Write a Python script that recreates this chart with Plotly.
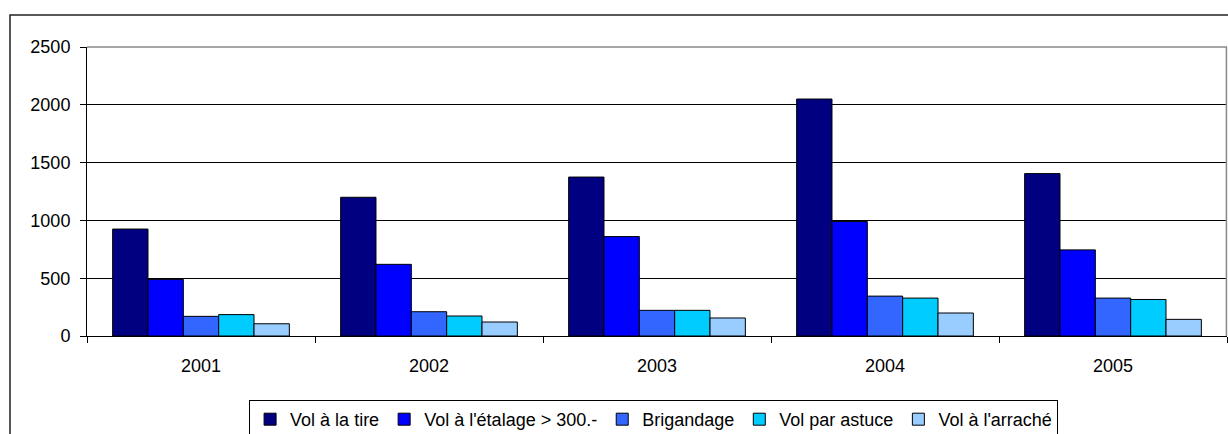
import plotly.graph_objects as go

years = ["2001", "2002", "2003", "2004", "2005"]
vol_tire = [925, 1200, 1375, 2050, 1405]
vol_etalage = [490, 620, 860, 990, 745]
brigandage = [170, 210, 222, 345, 328]
vol_astuce = [185, 173, 222, 328, 316]
vol_arrache = [106, 121, 156, 199, 144]

series_names = ["Vol à la tire", "Vol à l'étalage > 300.-", "Brigandage",
                "Vol par astuce", "Vol à l'arraché"]
series_values = [vol_tire, vol_etalage, brigandage, vol_astuce, vol_arrache]
colors = ["#000080", "#0000FF", "#3366FF", "#00CCFF", "#99CCFF"]

font = "Liberation Sans, Arial, sans-serif"

fig = go.Figure()
for name, vals, col in zip(series_names, series_values, colors):
    fig.add_trace(go.Bar(x=years, y=vals, name=name,
                         marker=dict(color=col, line=dict(color="black", width=1))))

L, R, T, B = 87, 1, 47, 98
W, H = 1228 - L - R, 434 - T - B

fig.update_layout(
    width=1228, height=434,
    margin=dict(l=L, r=R, t=T, b=B, autoexpand=False),
    paper_bgcolor="white", plot_bgcolor="white",
    barmode="group", bargap=0.225, bargroupgap=0,
    font=dict(family=font, size=18, color="black"),
    showlegend=True,
    legend=dict(orientation="h", x=0.497, xanchor="center",
                y=(336 - 400) / H, yanchor="top",
                bordercolor="black", borderwidth=1,
                font=dict(size=18), itemwidth=30,
                traceorder="normal"),
    xaxis=dict(type="category", showline=True, linecolor="black", linewidth=1,
               ticks="outside", tickson="boundaries", ticklen=6, tickcolor="black",
               showgrid=False, ticklabelstandoff=13, automargin=False),
    yaxis=dict(range=[0, 2500], dtick=500, showline=True, linecolor="black", linewidth=1,
               ticks="outside", ticklen=6, tickcolor="black",
               showgrid=True, gridcolor="black", gridwidth=1, zeroline=False,
               ticklabelstandoff=6, automargin=False),
    shapes=[
        dict(type="line", xref="paper", yref="paper", x0=0, x1=1, y0=1, y1=1,
             line=dict(color="#888888", width=1.5), layer="above"),
        dict(type="line", xref="paper", yref="paper", x0=0.9995, x1=0.9995, y0=0, y1=1,
             line=dict(color="#888888", width=1.5), layer="above"),
        dict(type="rect", xref="paper", yref="paper",
             x0=(10 - L) / W, x1=1.05, y0=-1, y1=(336 - 15) / H,
             line=dict(color="#222222", width=1.5), layer="above"),
    ],
)

fig.write_html("out.html", config={"displayModeBar": False},
               post_script="document.body.style.margin='0';document.body.style.overflow='hidden';")
